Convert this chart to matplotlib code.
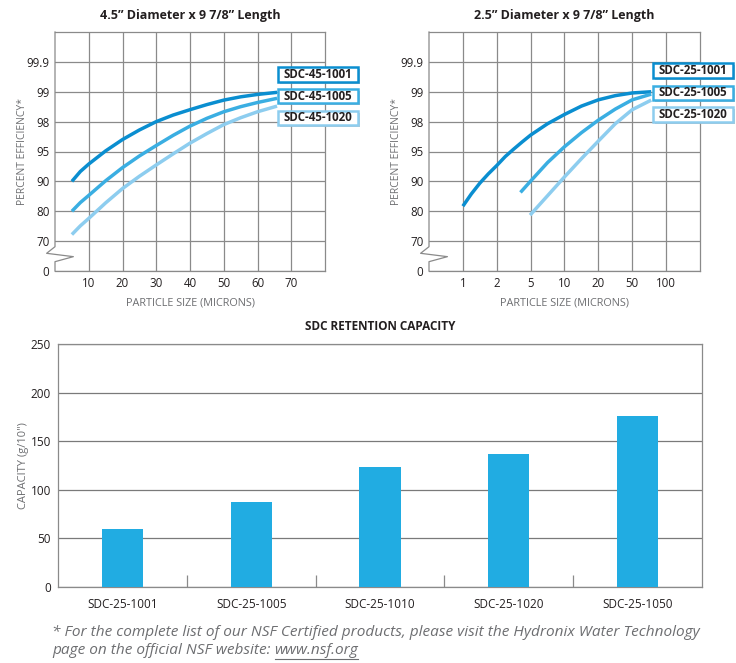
import numpy as np
import matplotlib
matplotlib.use('Agg')
import matplotlib.pyplot as plt
from matplotlib.patches import Rectangle
from matplotlib.lines import Line2D

plt.rcParams['font.family'] = ['Open Sans', 'DejaVu Sans']

# ---------------- data ----------------
eff_ticks = [0, 70, 80, 90, 95, 98, 99, 99.9]
eff_top = 99.99
left_x_ticks = [10, 20, 30, 40, 50, 60, 70]
left_x_max = 80
right_x_ticks = [1, 2, 5, 10, 20, 50, 100]
right_x_edges = [0.5, 200]

left_size = [5, 7.5, 10, 15, 20, 25, 30, 35, 40, 45, 50, 55, 60, 65.8]
sdc45_1001 = [90.0, 91.65, 92.9, 95.06, 96.2, 97.16, 98.0, 98.22, 98.40, 98.57,
              98.72, 98.83, 98.91, 98.98]
sdc45_1005 = [80.0, 82.9, 85.3, 90.1, 92.3, 94.25, 95.6, 96.62, 97.55, 98.11,
              98.33, 98.5, 98.64, 98.78]
sdc45_1020 = [72.2, 75.1, 77.6, 82.8, 87.6, 90.85, 92.75, 94.6, 95.84, 96.8,
              97.7, 98.13, 98.33, 98.52]
left_names = ['SDC-45-1001', 'SDC-45-1005', 'SDC-45-1020']

sdc25_1001_x = [1, 1.25, 1.5, 1.75, 2, 2.75, 3.5, 4.25, 5, 7.5, 10, 15, 20, 35, 50, 78]
sdc25_1001 = [81.7, 85.8, 89.4, 91.25, 92.65, 94.15, 95.24, 95.96, 96.65, 97.79,
              98.24, 98.52, 98.73, 98.87, 98.96, 99.0]
sdc25_1005_x = [4.1, 5, 7.5, 10, 15, 20, 35, 50, 78]
sdc25_1005 = [86.3, 90.05, 93.15, 95.48, 96.89, 98.05, 98.42, 98.73, 98.92]
sdc25_1020_x = [4.95, 7.5, 10, 15, 20, 35, 50, 78]
sdc25_1020 = [78.7, 85.2, 90.75, 93.8, 96.05, 97.79, 98.4, 98.72]
right_names = ['SDC-25-1001', 'SDC-25-1005', 'SDC-25-1020']

bar_models = ['SDC-25-1001', 'SDC-25-1005', 'SDC-25-1010', 'SDC-25-1020', 'SDC-25-1050']
bar_capacity = [60, 87, 123, 137, 176]
bar_ticks = [0, 50, 100, 150, 200, 250]

# ---------------- style ----------------
W, H = 736, 663
curve_colors = ['#0a8ed0', '#3aaee2', '#8dcdef']
grid_c = '#8a8a8a'
dark = '#231f20'
gray_txt = '#6d6e71'
bar_c = '#21ace2'

fig = plt.figure(figsize=(W / 100, H / 100), dpi=100)


def fx(px):
    return px / W


def fy(py):
    return 1 - py / H


# piecewise scale for efficiency axis (evenly spaced ticks)
eff_vals = eff_ticks + [eff_top]
eff_pos = np.arange(len(eff_vals), dtype=float)


def y_fwd(v):
    return np.interp(v, eff_vals, eff_pos)


def y_inv(p):
    return np.interp(p, eff_pos, eff_vals)


rx_vals = [right_x_edges[0]] + right_x_ticks + [right_x_edges[1]]
rx_pos = np.arange(len(rx_vals), dtype=float)


def x_fwd(v):
    return np.interp(v, rx_vals, rx_pos)


def x_inv(p):
    return np.interp(p, rx_pos, rx_vals)


def style_eff_axes(ax):
    ax.set_yscale('function', functions=(y_fwd, y_inv))
    ax.set_ylim(0, eff_top)
    ax.set_yticks(eff_ticks)
    ax.set_yticklabels(['99.9' if t == 99.9 else str(int(t)) for t in eff_ticks])
    ax.grid(True, color=grid_c, lw=0.9)
    ax.set_axisbelow(True)
    for s in ax.spines.values():
        s.set_color(grid_c)
        s.set_linewidth(0.9)
    ax.spines['left'].set_visible(False)
    ax.tick_params(length=0, labelsize=8.3, colors=dark, pad=4)
    ax.set_ylabel('PERCENT EFFICIENCY*', color=gray_txt, fontsize=7.5, labelpad=-1)
    ax.set_xlabel('PARTICLE SIZE (MICRONS)', color=gray_txt, fontsize=7.8, labelpad=6)
    # left axis line with break mark
    bx = [0, 0, -0.031, 0.068, 0, 0]
    by = [1, 0.1017, 0.074, 0.060, 0.039, 0]
    ax.add_line(Line2D(bx, by, transform=ax.transAxes, color=grid_c, lw=0.9,
                       clip_on=False))


def label_box(x0, x1, y0, y1, text, color):
    # shadow
    fig.patches.append(Rectangle((fx(x0 + 2), fy(y1 + 2)), fx(x1 - x0), (y1 - y0) / H,
                                 transform=fig.transFigure, fc='#9a9a9a', ec='none',
                                 alpha=0.6, zorder=5))
    fig.patches.append(Rectangle((fx(x0), fy(y1)), fx(x1 - x0), (y1 - y0) / H,
                                 transform=fig.transFigure, fc='white', ec=color,
                                 lw=1.8, zorder=6))
    fig.text(fx((x0 + x1) / 2), fy((y0 + y1) / 2), text, ha='center', va='center',
             fontsize=8.3, fontweight='bold', color=dark, zorder=7)


# ---------------- left chart ----------------
ax1 = fig.add_axes([fx(55), fy(271), fx(270), 239 / H])
style_eff_axes(ax1)
ax1.set_xlim(0, left_x_max)
ax1.set_xticks(left_x_ticks)
for ys, c in zip([sdc45_1001, sdc45_1005, sdc45_1020], curve_colors):
    ax1.plot(left_size, ys, color=c, lw=2.5, solid_capstyle='butt',
             solid_joinstyle='round', zorder=3)
fig.text(fx(190), fy(15), '4.5\u201d Diameter x 9 7/8\u201d Length', ha='center',
         va='center', fontsize=9.0, fontweight='bold', color=dark)
left_boxes = [(67.3, 81.7), (89.3, 103.3), (110.7, 125.0)]
for (y0, y1), name, c in zip(left_boxes, left_names, curve_colors):
    label_box(278.3, 358.3, y0, y1, name, c)

# ---------------- right chart ----------------
ax2 = fig.add_axes([fx(429), fy(271), fx(271), 239 / H])
style_eff_axes(ax2)
ax2.set_xscale('function', functions=(x_fwd, x_inv))
ax2.set_xlim(right_x_edges[0], right_x_edges[1])
ax2.set_xticks(right_x_ticks)
ax2.set_xticklabels([str(t) for t in right_x_ticks])
for xs, ys, c in zip([sdc25_1001_x, sdc25_1005_x, sdc25_1020_x],
                     [sdc25_1001, sdc25_1005, sdc25_1020], curve_colors):
    ax2.plot(xs, ys, color=c, lw=2.5, solid_capstyle='butt',
             solid_joinstyle='round', zorder=3)
fig.text(fx(564), fy(15), '2.5\u201d Diameter x 9 7/8\u201d Length', ha='center',
         va='center', fontsize=9.0, fontweight='bold', color=dark)
right_boxes = [(63.3, 78.3), (85.7, 100.0), (106.7, 121.7)]
for (y0, y1), name, c in zip(right_boxes, right_names, curve_colors):
    label_box(652.7, 733.3, y0, y1, name, c)

# ---------------- bar chart ----------------
ax3 = fig.add_axes([fx(58), fy(587), fx(644), 243 / H])
xpos = np.arange(len(bar_models))
ax3.bar(xpos, bar_capacity, width=0.32, color=bar_c, zorder=3)
ax3.set_xlim(-0.5, len(bar_models) - 0.5)
ax3.set_ylim(bar_ticks[0], bar_ticks[-1])
ax3.set_yticks(bar_ticks)
ax3.set_xticks(xpos)
ax3.set_xticklabels(bar_models)
ax3.set_xticks(xpos[:-1] + 0.5, minor=True)
ax3.grid(True, axis='y', color='#7a7a7a', lw=0.9)
ax3.set_axisbelow(True)
for s in ax3.spines.values():
    s.set_color(grid_c)
    s.set_linewidth(0.9)
ax3.tick_params(axis='both', which='major', length=0, labelsize=8.5, colors=dark)
ax3.tick_params(axis='y', which='major', pad=5)
ax3.tick_params(axis='x', which='major', pad=8)
ax3.tick_params(axis='x', which='minor', direction='in', length=8.5, color=grid_c,
                width=0.9)
ax3.set_ylabel('CAPACITY (g/10")', color=gray_txt, fontsize=8.0, labelpad=1)
fig.text(fx(380), fy(326), 'SDC RETENTION CAPACITY', ha='center', va='center',
         fontsize=8.5, fontweight='bold', color=dark)

# ---------------- footnote ----------------
fs = 11.05
fig.text(fx(52), fy(633), '* For the complete list of our NSF Certified products, '
         'please visit the Hydronix Water Technology', ha='left', va='center',
         fontsize=fs, style='italic', color=gray_txt)
t1 = fig.text(fx(52), fy(651), 'page on the official NSF website: ', ha='left',
              va='center', fontsize=fs, style='italic', color=gray_txt)
fig.canvas.draw()
r = fig.canvas.get_renderer()
bb = t1.get_window_extent(r)
t2 = fig.text(bb.x1 / W, fy(651), 'www.nsf.org', ha='left', va='center',
              fontsize=fs, style='italic', color=gray_txt)
bb2 = t2.get_window_extent(r)
fig.add_artist(Line2D([bb2.x0 / W, bb2.x1 / W], [fy(659), fy(659)],
                      transform=fig.transFigure, color=gray_txt, lw=0.8))

fig.savefig('out.png', dpi=100)
